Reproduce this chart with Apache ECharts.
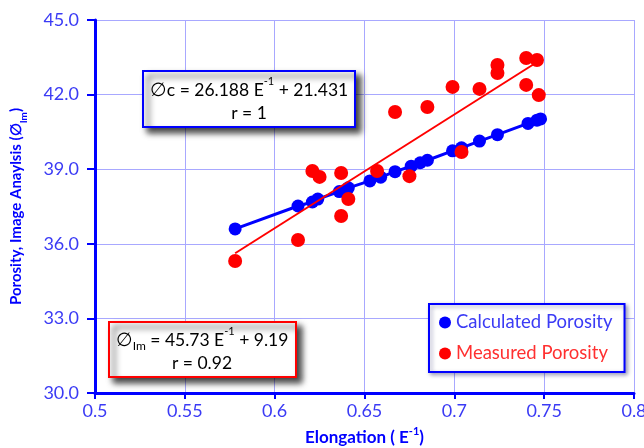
<!DOCTYPE html>
<html><head><meta charset="utf-8">
<script src="https://cdn.jsdelivr.net/npm/echarts@6/dist/echarts.min.js"></script>
<style>html,body{margin:0;padding:0;background:#fff}#c{width:644px;height:448px}</style>
</head><body><div id="c"></div>
<script>
// Calculated porosity (blue)
const calcX = [0.578,0.613,0.621,0.624,0.636,0.641,0.653,0.659,0.667,0.676,0.681,0.685,0.699,0.704,0.714,0.724,0.741,0.746,0.748];
const calcY = [36.60,37.52,37.68,37.80,38.10,38.25,38.53,38.68,38.90,39.12,39.26,39.36,39.74,39.86,40.13,40.39,40.84,40.97,41.02];
// Measured porosity (red)
const measX = [0.578,0.613,0.621,0.625,0.637,0.637,0.641,0.657,0.667,0.675,0.685,0.699,0.704,0.714,0.724,0.724,0.740,0.740,0.746,0.747];
const measY = [35.31,36.15,38.93,38.69,38.85,37.12,37.80,38.93,41.30,38.72,41.50,42.31,39.69,42.23,43.19,42.87,43.47,42.39,43.39,41.98];
// Measured trend line end points
const trendX = [0.578, 0.747];
const trendY = [35.62, 43.35];
const xTicks = ['0.5','0.55','0.6','0.65','0.7','0.75','0.8'];
const yTicks = ['30.0','33.0','36.0','39.0','42.0','45.0'];

const BLUE = '#0000ff', RED = '#ff0000', LBLUE = '#3b3bf5', LRED = '#ff3030';
const FONT = 'Lato, "Open Sans", sans-serif';
const zip = (a, b) => a.map((v, i) => [v, b[i]]);

const chart = echarts.init(document.getElementById('c'), null, {renderer: 'canvas'});
chart.setOption({
  animation: false,
  backgroundColor: '#fff',
  grid: {left: 95, right: 10, top: 20, bottom: 55, containLabel: false, outerBoundsMode: 'none'},
  xAxis: {
    type: 'value', min: 0.5, max: 0.8, interval: 0.05,
    name: '{b|Elongation ( E}{sup|-1}{b|)}', nameLocation: 'middle', nameGap: 33,
    nameTextStyle: {rich: {
      b: {fontFamily: FONT, fontSize: 17, fontWeight: 'bold', color: BLUE, lineHeight: 20, verticalAlign: 'bottom'},
      sup: {fontFamily: FONT, fontSize: 11, fontWeight: 'bold', color: BLUE, lineHeight: 20, verticalAlign: 'top'}
    }},
    axisLine: {show: true, lineStyle: {color: BLUE, width: 3}},
    axisTick: {show: true, length: 6, lineStyle: {color: BLUE, width: 2}},
    axisLabel: {color: LBLUE, fontFamily: FONT, fontSize: 18, margin: 9,
      formatter: v => xTicks[Math.round((v - 0.5) / 0.05)] || ''},
    splitLine: {show: true, lineStyle: {color: '#a8a8ff', width: 1}}
  },
  yAxis: {
    type: 'value', min: 30, max: 45, interval: 3,
    name: '{b|Porosity, Image Anaylsis (∅}{sub|Im}{b|)}', nameLocation: 'middle', nameGap: 66,
    nameTextStyle: {rich: {
      b: {fontFamily: FONT, fontSize: 15, fontWeight: 'bold', color: BLUE, lineHeight: 20, verticalAlign: 'top'},
      sub: {fontFamily: FONT, fontSize: 10, fontWeight: 'bold', color: BLUE, lineHeight: 20, verticalAlign: 'bottom'}
    }},
    axisLine: {show: true, lineStyle: {color: BLUE, width: 3}},
    axisTick: {show: true, length: 8, lineStyle: {color: BLUE, width: 2}},
    axisLabel: {color: LBLUE, fontFamily: FONT, fontSize: 18, margin: 16,
      formatter: v => yTicks[Math.round((v - 30) / 3)] || ''},
    splitLine: {show: true, lineStyle: {color: '#a8a8ff', width: 1}}
  },
  legend: {
    orient: 'vertical', left: 429, top: 304,
    backgroundColor: '#fff', borderColor: BLUE, borderWidth: 2,
    padding: [9, 12, 9, 10], itemGap: 12, itemWidth: 12, itemHeight: 12,
    shadowBlur: 4, shadowOffsetX: 2, shadowOffsetY: 2, shadowColor: 'rgba(0,0,80,0.35)',
    textStyle: {fontFamily: FONT, fontSize: 18.5},
    data: [
      {name: 'Calculated Porosity', icon: 'circle', textStyle: {color: LBLUE}},
      {name: 'Measured Porosity', icon: 'circle', textStyle: {color: LRED}}
    ]
  },
  series: [
    {name: 'Calculated Porosity', type: 'line', data: zip(calcX, calcY),
      symbol: 'circle', symbolSize: 13, showAllSymbol: true,
      itemStyle: {color: BLUE}, lineStyle: {color: BLUE, width: 3}, z: 2},
    {name: 'Measured Porosity', type: 'scatter', data: zip(measX, measY),
      symbol: 'circle', symbolSize: 14, itemStyle: {color: RED, opacity: 1}, z: 3},
    {name: 'trend', type: 'line', data: zip(trendX, trendY), symbol: 'none',
      lineStyle: {color: RED, width: 2}, z: 4}
  ],
  graphic: [
    {type: 'rect', z: 100, shape: {x: 143, y: 71, width: 212, height: 56},
      style: {fill: '#fff', stroke: BLUE, lineWidth: 2, shadowBlur: 6, shadowOffsetX: 5, shadowOffsetY: 5, shadowColor: 'rgba(0,0,0,0.75)'}},
    {type: 'text', z: 101, x: 249, y: 76,
      style: {text: '{p|∅}{t|c = 26.188 E}{s|-1}{t| + 21.431}\n{t|r = 1}', align: 'center',
        rich: {
          p: {fontFamily: FONT, fontSize: 19, color: '#8080ff', lineHeight: 23, verticalAlign: 'bottom'},
          t: {fontFamily: FONT, fontSize: 17.5, color: LBLUE, lineHeight: 23, verticalAlign: 'bottom', align: 'center'},
          s: {fontFamily: FONT, fontSize: 11, color: LBLUE, lineHeight: 23, verticalAlign: 'top'}
        }}},
    {type: 'rect', z: 100, shape: {x: 109, y: 322, width: 187, height: 55},
      style: {fill: '#fff', stroke: RED, lineWidth: 2, shadowBlur: 6, shadowOffsetX: 5, shadowOffsetY: 5, shadowColor: 'rgba(0,0,0,0.75)'}},
    {type: 'text', z: 101, x: 202, y: 326,
      style: {text: '{p|∅}{b|Im}{t| = 45.73 E}{s|-1}{t| + 9.19}\n{t|r = 0.92}', align: 'center',
        rich: {
          p: {fontFamily: FONT, fontSize: 19, color: '#ff8080', lineHeight: 23, verticalAlign: 'bottom'},
          b: {fontFamily: FONT, fontSize: 12, color: LRED, lineHeight: 23, verticalAlign: 'bottom', padding: [0, 0, -3, 0]},
          t: {fontFamily: FONT, fontSize: 17.5, color: LRED, lineHeight: 23, verticalAlign: 'bottom'},
          s: {fontFamily: FONT, fontSize: 11, color: LRED, lineHeight: 23, verticalAlign: 'top'}
        }}}
  ]
});
</script></body></html>
